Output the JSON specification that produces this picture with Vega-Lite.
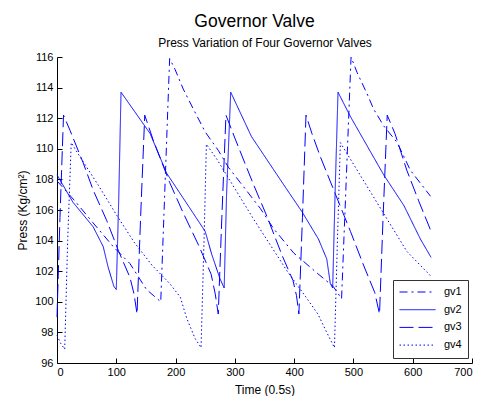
{
  "$schema": "https://vega.github.io/schema/vega-lite/v6.json",
  "width": 415,
  "height": 306,
  "autosize": {"type": "none"},
  "padding": {"left": 57, "top": 57, "right": 9, "bottom": 33},
  "background": "white",
  "config": {
    "font": "Liberation Sans",
    "view": {"stroke": null},
    "axis": {
      "domainColor": "#000", "tickColor": "#000", "labelColor": "#000", "titleColor": "#000",
      "labelFont": "Liberation Sans", "titleFont": "Liberation Sans",
      "labelFontSize": 11, "titleFontSize": 12, "titleFontWeight": "normal",
      "grid": false, "tickSize": -5, "domainWidth": 1, "tickWidth": 1
    }
  },
  "title": {"text": "Governor Valve", "font": "Liberation Sans", "fontSize": 17.5, "fontWeight": "normal", "color": "#000", "anchor": "middle", "dx": -10, "offset": 6},
  "data": {"values": [
    {"s":"gv1","t":0,"p":107.9},{"s":"gv1","t":30,"p":106.6},{"s":"gv1","t":60,"p":105.2},{"s":"gv1","t":95,"p":103.6},{"s":"gv1","t":123,"p":102.5},{"s":"gv1","t":151,"p":100.8},{"s":"gv1","t":175,"p":100.0},{"s":"gv1","t":190,"p":115.9},{"s":"gv1","t":199,"p":115.2},{"s":"gv1","t":213,"p":113.9},{"s":"gv1","t":230,"p":112.6},{"s":"gv1","t":250,"p":111.1},{"s":"gv1","t":272,"p":109.9},{"s":"gv1","t":289,"p":108.8},{"s":"gv1","t":309,"p":107.8},{"s":"gv1","t":343,"p":106.1},{"s":"gv1","t":365,"p":104.8},{"s":"gv1","t":399,"p":103.2},{"s":"gv1","t":438,"p":101.9},{"s":"gv1","t":466,"p":101.0},{"s":"gv1","t":480,"p":100.2},{"s":"gv1","t":496,"p":116.0},{"s":"gv1","t":506,"p":115.0},{"s":"gv1","t":523,"p":113.6},{"s":"gv1","t":534,"p":112.6},{"s":"gv1","t":551,"p":111.5},{"s":"gv1","t":574,"p":110.4},{"s":"gv1","t":596,"p":108.6},{"s":"gv1","t":630,"p":106.9},
    {"s":"gv2","t":0,"p":108.3},{"s":"gv2","t":27,"p":106.5},{"s":"gv2","t":61,"p":104.9},{"s":"gv2","t":78,"p":103.6},{"s":"gv2","t":86,"p":102.3},{"s":"gv2","t":96,"p":101.0},{"s":"gv2","t":100,"p":100.8},{"s":"gv2","t":104,"p":106.5},{"s":"gv2","t":108,"p":113.7},{"s":"gv2","t":157,"p":111.0},{"s":"gv2","t":185,"p":108.4},{"s":"gv2","t":221,"p":106.3},{"s":"gv2","t":250,"p":104.6},{"s":"gv2","t":261,"p":103.1},{"s":"gv2","t":275,"p":101.5},{"s":"gv2","t":282,"p":100.9},{"s":"gv2","t":286,"p":107.0},{"s":"gv2","t":293,"p":113.7},{"s":"gv2","t":328,"p":110.8},{"s":"gv2","t":385,"p":107.5},{"s":"gv2","t":413,"p":105.9},{"s":"gv2","t":441,"p":104.1},{"s":"gv2","t":455,"p":102.8},{"s":"gv2","t":461,"p":101.2},{"s":"gv2","t":465,"p":100.9},{"s":"gv2","t":469,"p":107.0},{"s":"gv2","t":474,"p":113.7},{"s":"gv2","t":495,"p":112.1},{"s":"gv2","t":551,"p":108.3},{"s":"gv2","t":585,"p":106.3},{"s":"gv2","t":613,"p":104.1},{"s":"gv2","t":631,"p":102.9},
    {"s":"gv3","t":0,"p":99.0},{"s":"gv3","t":5,"p":105.5},{"s":"gv3","t":11,"p":112.2},{"s":"gv3","t":22,"p":111.2},{"s":"gv3","t":44,"p":109.1},{"s":"gv3","t":61,"p":107.3},{"s":"gv3","t":84,"p":105.3},{"s":"gv3","t":104,"p":103.3},{"s":"gv3","t":123,"p":101.6},{"s":"gv3","t":130,"p":100.5},{"s":"gv3","t":135,"p":99.2},{"s":"gv3","t":141,"p":105.5},{"s":"gv3","t":148,"p":112.2},{"s":"gv3","t":162,"p":110.6},{"s":"gv3","t":190,"p":107.8},{"s":"gv3","t":213,"p":105.8},{"s":"gv3","t":240,"p":103.6},{"s":"gv3","t":260,"p":101.8},{"s":"gv3","t":267,"p":100.5},{"s":"gv3","t":272,"p":99.2},{"s":"gv3","t":278,"p":105.5},{"s":"gv3","t":285,"p":112.2},{"s":"gv3","t":300,"p":110.7},{"s":"gv3","t":330,"p":107.8},{"s":"gv3","t":355,"p":105.5},{"s":"gv3","t":380,"p":103.0},{"s":"gv3","t":398,"p":101.4},{"s":"gv3","t":404,"p":100.4},{"s":"gv3","t":408,"p":99.2},{"s":"gv3","t":414,"p":105.5},{"s":"gv3","t":420,"p":112.2},{"s":"gv3","t":430,"p":111.0},{"s":"gv3","t":444,"p":109.5},{"s":"gv3","t":470,"p":107.0},{"s":"gv3","t":495,"p":104.6},{"s":"gv3","t":517,"p":102.4},{"s":"gv3","t":536,"p":100.6},{"s":"gv3","t":544,"p":99.2},{"s":"gv3","t":550,"p":105.5},{"s":"gv3","t":557,"p":112.2},{"s":"gv3","t":570,"p":111.0},{"s":"gv3","t":590,"p":108.6},{"s":"gv3","t":610,"p":106.6},{"s":"gv3","t":630,"p":104.7},
    {"s":"gv4","t":0,"p":97.8},{"s":"gv4","t":6,"p":97.3},{"s":"gv4","t":13,"p":96.9},{"s":"gv4","t":18,"p":104.0},{"s":"gv4","t":24,"p":110.4},{"s":"gv4","t":40,"p":109.4},{"s":"gv4","t":70,"p":107.6},{"s":"gv4","t":100,"p":105.7},{"s":"gv4","t":130,"p":103.9},{"s":"gv4","t":160,"p":102.4},{"s":"gv4","t":190,"p":101.2},{"s":"gv4","t":208,"p":100.3},{"s":"gv4","t":219,"p":98.9},{"s":"gv4","t":233,"p":97.6},{"s":"gv4","t":243,"p":97.0},{"s":"gv4","t":248,"p":104.0},{"s":"gv4","t":252,"p":110.3},{"s":"gv4","t":270,"p":109.3},{"s":"gv4","t":300,"p":107.4},{"s":"gv4","t":330,"p":105.5},{"s":"gv4","t":360,"p":103.7},{"s":"gv4","t":390,"p":101.9},{"s":"gv4","t":420,"p":100.3},{"s":"gv4","t":440,"p":99.2},{"s":"gv4","t":455,"p":98.0},{"s":"gv4","t":468,"p":97.0},{"s":"gv4","t":473,"p":104.0},{"s":"gv4","t":478,"p":110.4},{"s":"gv4","t":500,"p":109.0},{"s":"gv4","t":530,"p":107.1},{"s":"gv4","t":560,"p":105.2},{"s":"gv4","t":590,"p":103.3},{"s":"gv4","t":630,"p":101.7}
  ]},
  "layer": [
    {
      "mark": {"type": "line", "color": "#0000ff", "strokeWidth": 1},
      "encoding": {
        "x": {"field": "t", "type": "quantitative", "scale": {"domain": [0, 700], "nice": false},
              "axis": {"orient": "bottom", "title": "Time (0.5s)", "values": [0,100,200,300,400,500,600,700], "labelPadding": 8, "titlePadding": 7}},
        "y": {"field": "p", "type": "quantitative", "scale": {"domain": [96, 116], "nice": false, "zero": false},
              "axis": {"title": "Press (Kg/cm²)", "values": [96,98,100,102,104,106,108,110,112,114,116], "labelPadding": 9, "titlePadding": 5}},
        "strokeDash": {"field": "s", "type": "nominal",
              "scale": {"domain": ["gv1","gv2","gv3","gv4"], "range": [[8,4,2,4],[1,0],[14,5],[1.5,2.5]]},
              "legend": {"orient": "none", "legendX": 336, "legendY": 223, "title": null,
                         "symbolType": "stroke", "symbolSize": 1296, "symbolStrokeWidth": 1, "symbolStrokeColor": "#0000ff",
                         "clipHeight": 12, "rowPadding": 5.7, "padding": 6, "fillColor": "white", "strokeColor": "#333",
                         "labelFont": "Liberation Sans", "labelFontSize": 11, "labelColor": "#000", "labelOffset": 8,
                         "labelExpr": "datum.label + '\u00a0\u00a0\u00a0\u00a0\u00a0'"}}
      }
    },
    {
      "mark": {"type": "rule", "opacity": 0},
      "encoding": {
        "x": {"field": "t", "type": "quantitative", "scale": {"domain": [0, 700], "nice": false},
              "axis": {"orient": "top", "title": "Press Variation of Four Governor Valves", "labels": false, "ticks": false, "domain": false, "titlePadding": 8}}
      }
    }
  ],
  "resolve": {"axis": {"x": "independent"}}
}
